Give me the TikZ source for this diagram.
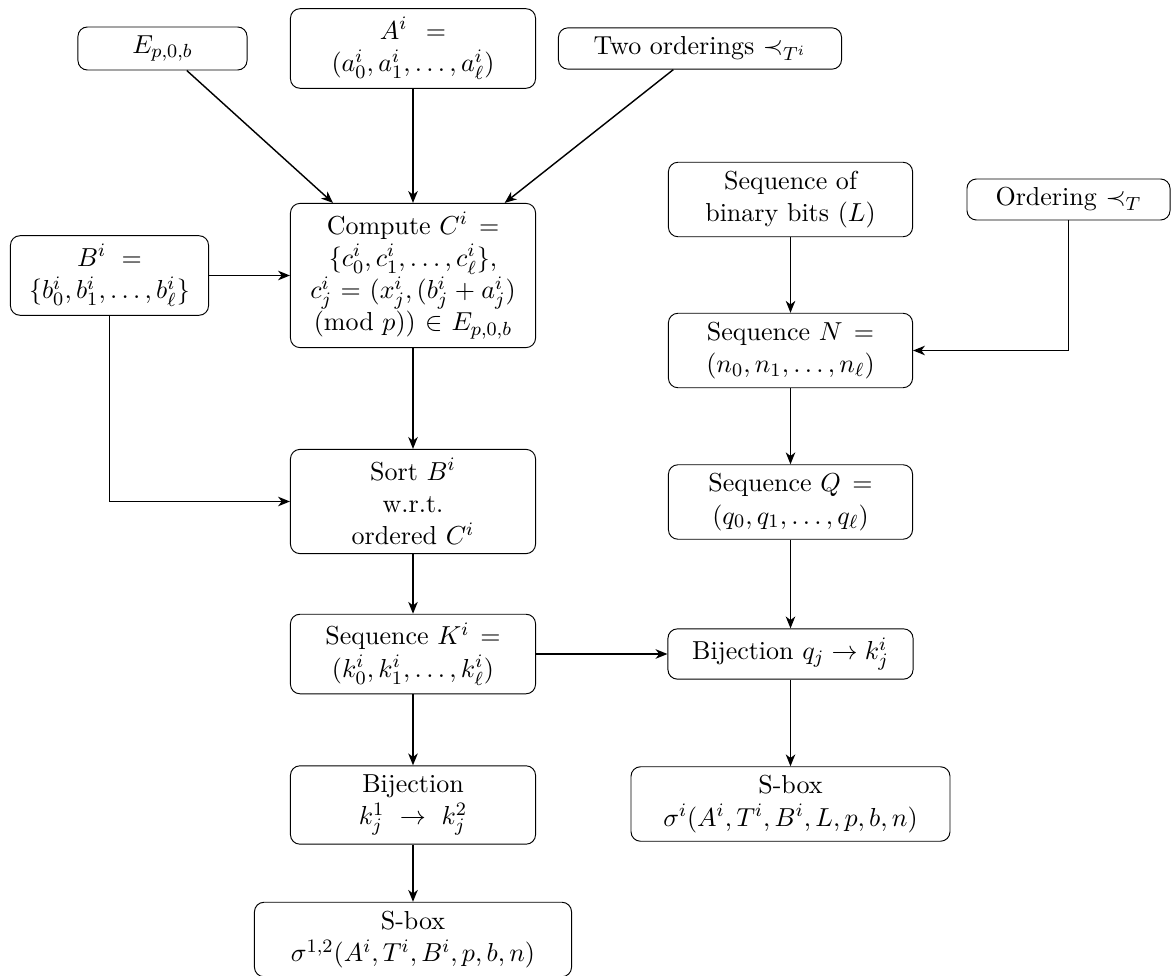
\documentclass[tikz,border=0pt]{standalone}
\usepackage{amsmath,amssymb}
\usetikzlibrary{arrows.meta}
\begin{document}
\begin{tikzpicture}[x=0.42105pt, y=-0.42105pt,
  box/.style={draw, rounded corners=4pt, align=center, text width=#1,
    inner sep=3.65pt, font=\fontsize{10.95pt}{13.6pt}\selectfont},
  box/.default=95.9pt,
  onebox/.style={draw, rounded corners=4pt, minimum width=#1,
    inner sep=3.65pt, font=\fontsize{10.95pt}{13.6pt}\selectfont},
  arr/.style={-{Stealth[length=5pt,width=4pt,inset=1.5pt]}, line width=0.6pt}]
\useasboundingbox (0,0) rectangle (1172,976);

% inputs
\node[onebox=71.2pt] (E) at (162.5,48.5) {$E_{p,0,b}$};
\node[box] (A) at (413,48.5) {$A^i =$\\ $(a^i_0, a^i_1, \ldots, a^i_\ell)$};
\node[onebox=119.2pt] (Two) at (700,48.5) {Two orderings $\prec_{T^i}$};
\node[box=76.1pt] (B) at (109.5,275.5) {$B^i =$\\ $\{b^i_0, b^i_1, \ldots, b^i_\ell\}$};
\node[box=95.5pt] (Bin) at (790.5,199.5) {Sequence of\\ binary bits ($L$)};
\node[onebox=85.5pt] (Ord) at (1068.5,199.5) {Ordering $\prec_T$};

% left chain
\node[box] (C) at (413,275.5) {Compute $C^i =$\\ $\{c^i_0, c^i_1, \ldots, c^i_\ell\}$,\\ $c^i_j = (x^i_j, (b^i_j + a^i_j)$\\ $(\mathrm{mod}\ p)) \in E_{p,0,b}$};
\node[box] (Sort) at (413,501.5) {Sort $B^i$\\ w.r.t.\\ ordered $C^i$};
\node[box] (K) at (413,654) {Sequence $K^i =$\\ $(k^i_0, k^i_1, \ldots, k^i_\ell)$};
\node[box] (BijK) at (413,805) {Bijection\\ $k^1_j \rightarrow k^2_j$};
\node[box=126.2pt] (SL) at (413,939.5) {S-box\\ $\sigma^{1,2}(A^i, T^i, B^i, p, b, n)$};

% right chain
\node[box=95.5pt] (N) at (790.5,350.5) {Sequence $N =$\\ $(n_0, n_1, \ldots, n_\ell)$};
\node[box=95.5pt] (Q) at (790.5,502) {Sequence $Q =$\\ $(q_0, q_1, \ldots, q_\ell)$};
\node[onebox=103.2pt] (BijQ) at (790.5,654) {Bijection $q_j \rightarrow k^i_j$};
\node[box=127pt] (SR) at (790.5,804) {S-box\\ $\sigma^i(A^i, T^i, B^i, L, p, b, n)$};

% connectors
\draw[arr] (E) -- (C);
\draw[arr] (A) -- (C);
\draw[arr] (Two) -- (C);
\draw[arr] (B) -- (C);
\draw[arr] (B) |- (Sort);
\draw[arr] (C) -- (Sort);
\draw[arr] (Sort) -- (K);
\draw[arr] (K) -- (BijK);
\draw[arr] (BijK) -- (SL);
\draw[arr] (K) -- (BijQ);
\draw[arr] (Bin) -- (N);
\draw[arr] (Ord) |- (N);
\draw[arr] (N) -- (Q);
\draw[arr] (Q) -- (BijQ);
\draw[arr] (BijQ) -- (SR);
\end{tikzpicture}
\end{document}
